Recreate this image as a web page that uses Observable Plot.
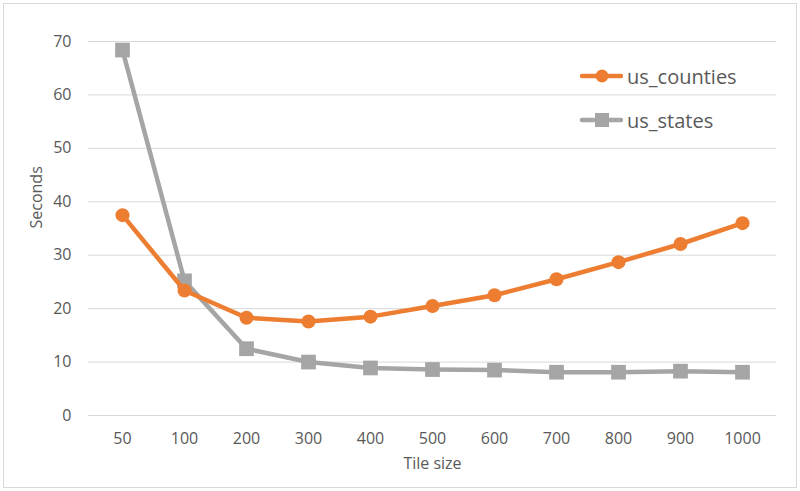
<!DOCTYPE html>
<html>
<head>
<meta charset="utf-8">
<script src="https://cdn.jsdelivr.net/npm/d3@7"></script>
<script src="https://cdn.jsdelivr.net/npm/@observablehq/plot@0.6"></script>
<style>
  html, body { margin: 0; padding: 0; background: #fff; }
  #wrap { position: relative; width: 800px; height: 491px; font-family: "Open Sans", sans-serif; }
  #frame { position: absolute; left: 3px; top: 3px; width: 792px; height: 483px; border: 1px solid #D9D9D9; pointer-events: none; }
  #legend { position: absolute; left: 579px; top: 54px; font-size: 20px; color: #595959; }
  #legend .item { display: flex; align-items: center; height: 44px; }
  #legend svg { margin-right: 4px; }
</style>
</head>
<body>
<div id="wrap">
  <div id="chart"></div>
  <div id="frame"></div>
  <div id="legend"></div>
</div>
<script>
const tileSizes = ["50", "100", "200", "300", "400", "500", "600", "700", "800", "900", "1000"];
const usCounties = [37.5, 23.4, 18.3, 17.6, 18.5, 20.5, 22.5, 25.5, 28.7, 32.1, 36.0];
const usStates = [68.4, 25.2, 12.5, 10.0, 8.9, 8.6, 8.5, 8.1, 8.1, 8.3, 8.1];
const yTicks = [0, 10, 20, 30, 40, 50, 60, 70];
const seriesNames = ["us_counties", "us_states"];
const seriesColors = ["#ED7D31", "#A5A5A5"];

const counties = tileSizes.map((t, i) => ({tile: t, value: usCounties[i]}));
const states = tileSizes.map((t, i) => ({tile: t, value: usStates[i]}));

const chart = Plot.plot({
  width: 800,
  height: 491,
  marginLeft: 88,
  marginRight: 24,
  marginTop: 41,
  marginBottom: 76,
  style: {fontFamily: "'Open Sans', sans-serif", fontSize: "16px", color: "#595959", background: "white"},
  x: {type: "point", domain: tileSizes, padding: 0.5, label: null},
  y: {domain: [0, 70], label: null},
  marks: [
    Plot.ruleY(yTicks, {stroke: "#D9D9D9", strokeWidth: 1}),
    Plot.axisX({tickSize: 0, tickPadding: 17, fontSize: 16, fill: "#595959"}),
    Plot.axisY({ticks: yTicks, tickSize: 0, tickPadding: 17, fontSize: 16, fill: "#595959"}),
    Plot.text(["Tile size"], {frameAnchor: "bottom", dy: 53, fontSize: 16, fill: "#595959"}),
    Plot.text(["Seconds"], {frameAnchor: "left", dx: -52, rotate: -90, fontSize: 16, fill: "#595959"}),
    Plot.line(states, {x: "tile", y: "value", stroke: seriesColors[1], strokeWidth: 4.5}),
    Plot.dot(states, {x: "tile", y: "value", symbol: "square", r: 8.3, fill: seriesColors[1], stroke: "none"}),
    Plot.line(counties, {x: "tile", y: "value", stroke: seriesColors[0], strokeWidth: 4.5}),
    Plot.dot(counties, {x: "tile", y: "value", r: 7, fill: seriesColors[0], stroke: "none"})
  ]
});
document.getElementById("chart").appendChild(chart);

const legend = document.getElementById("legend");
seriesNames.forEach((name, i) => {
  const item = document.createElement("div");
  item.className = "item";
  const symbol = i === 0
    ? `<circle cx="23" cy="10" r="6.5" fill="${seriesColors[i]}"/>`
    : `<rect x="16" y="3" width="14" height="14" fill="${seriesColors[i]}"/>`;
  item.innerHTML = `<svg width="44" height="20"><line x1="3" y1="10" x2="42" y2="10" stroke="${seriesColors[i]}" stroke-width="4.5" stroke-linecap="round"/>${symbol}</svg><span>${name}</span>`;
  legend.appendChild(item);
});
</script>
</body>
</html>
